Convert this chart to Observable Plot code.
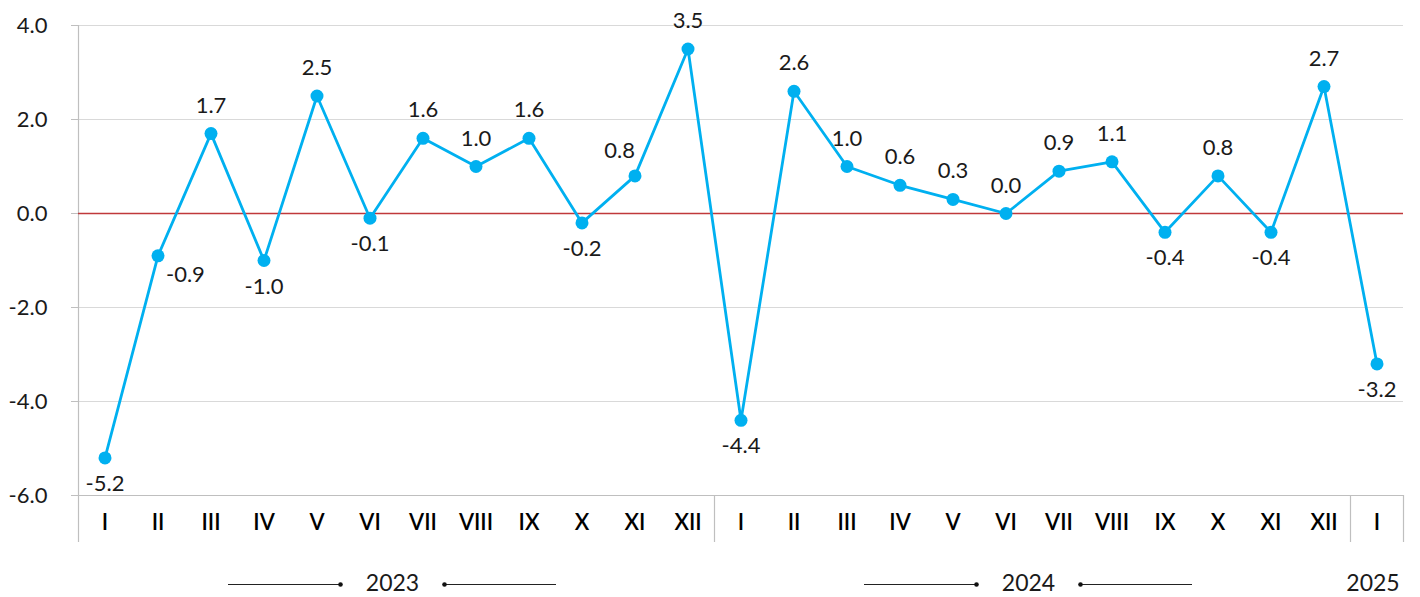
<!DOCTYPE html>
<html>
<head>
<meta charset="utf-8">
<script src="https://cdn.jsdelivr.net/npm/d3@7"></script>
<script src="https://cdn.jsdelivr.net/npm/@observablehq/plot@0.6"></script>
<style>
  html, body { margin: 0; padding: 0; background: #fff; }
  #chart { width: 1420px; height: 597px; overflow: hidden; }
  svg [aria-label="y-axis"] line,
  svg [aria-label="y-axis"] path,
  svg [aria-label="y-axis tick"] path { stroke: #bfbfbf; }
</style>
</head>
<body>
<div id="chart"></div>
<script>
// ---- data ----
const monthLabels = ["I","II","III","IV","V","VI","VII","VIII","IX","X","XI","XII",
                     "I","II","III","IV","V","VI","VII","VIII","IX","X","XI","XII",
                     "I"];
const values = [-5.2, -0.9, 1.7, -1.0, 2.5, -0.1, 1.6, 1.0, 1.6, -0.2, 0.8, 3.5,
                -4.4, 2.6, 1.0, 0.6, 0.3, 0.0, 0.9, 1.1, -0.4, 0.8, -0.4, 2.7,
                -3.2];
const years = ["2023", "2024", "2025"];
const monthsPerYear = [12, 12, 1];
const yTicks = [-6, -4, -2, 0, 2, 4];

// ---- derived tables ----
const rows = values.map((v, i) => ({i, v, m: monthLabels[i], prev: values[i - 1], next: values[i + 1]}));
let acc = 0;
const groups = years.map((y, k) => {
  const start = acc; acc += monthsPerYear[k];
  return {year: y, start, count: monthsPerYear[k], center: start + (monthsPerYear[k] - 1) / 2};
});
const separators = [...groups.map(g => g.start - 0.5), acc - 0.5];

const steep = 1.5;
const aboveLeft = rows.filter(d => d.v >= 0 && d.next !== undefined && d.next - d.v > steep);
const aboveCenter = rows.filter(d => d.v >= 0 && !aboveLeft.includes(d));
const belowRight = rows.filter(d => d.v < 0 && d.prev !== undefined && d.v - d.prev > steep);
const belowCenter = rows.filter(d => d.v < 0 && !belowRight.includes(d));

const multi = groups.filter(g => g.count > 1);
const inner = 52 / 53, outer = 164 / 53;
const decoLines = multi.flatMap(g => [
  {x1: g.center - outer, x2: g.center - inner},
  {x1: g.center + inner, x2: g.center + outer}
]);
const decoDots = multi.flatMap(g => [{x: g.center - inner}, {x: g.center + inner}]);

const fmt = d => d.toFixed(1);
const blue = "#00b0f0";
const ink = "#1a1a1a";
const FS = 22;

const chart = Plot.plot({
  width: 1420,
  height: 597,
  marginLeft: 78,
  marginRight: 17,
  marginTop: 25,
  marginBottom: 102,
  style: {fontFamily: "Lato, 'Open Sans', sans-serif", fontSize: FS + "px", color: ink, background: "#fff", overflow: "visible"},
  x: {type: "linear", domain: [-0.5, acc - 0.5], axis: null},
  y: {domain: [-6, 4], ticks: yTicks, tickFormat: fmt, tickSize: 7, tickPadding: 24, label: null, line: false},
  marks: [
    Plot.ruleY(yTicks.filter(t => t !== 0 && t !== -6), {stroke: "#d9d9d9", strokeWidth: 1}),
    Plot.ruleY([-6], {stroke: "#bfbfbf", strokeWidth: 1.2}),
    Plot.ruleX([separators[0]], {y1: 4, y2: -7, stroke: "#bfbfbf", strokeWidth: 1.2}),
    Plot.ruleX(separators.slice(1), {y1: -6, y2: -7, stroke: "#bfbfbf", strokeWidth: 1.2}),
    Plot.ruleY([0], {stroke: "#c0393b", strokeWidth: 1.4}),
    Plot.line(rows, {x: "i", y: "v", stroke: blue, strokeWidth: 2.8}),
    Plot.dot(rows, {x: "i", y: "v", r: 6.5, fill: blue, stroke: null}),
    Plot.text(aboveCenter, {x: "i", y: "v", text: d => fmt(d.v), dy: -28, fontSize: FS, fill: ink}),
    Plot.text(aboveLeft, {x: "i", y: "v", text: d => fmt(d.v), dy: -25, dx: 0, textAnchor: "end", fontSize: FS, fill: ink}),
    Plot.text(belowCenter, {x: "i", y: "v", text: d => fmt(d.v), dy: 26, fontSize: FS, fill: ink}),
    Plot.text(belowRight, {x: "i", y: "v", text: d => fmt(d.v), dy: 19, dx: 8, textAnchor: "start", fontSize: FS, fill: ink}),
    Plot.text(rows, {x: "i", y: () => -6, text: "m", dy: 27, fontSize: FS, fontWeight: 600, fill: "#000"}),
    Plot.text(groups, {x: "center", y: () => -6, text: "year", dy: 88, dx: -4, fontSize: FS + 1, fill: ink}),
    Plot.ruleY(decoLines, {x1: "x1", x2: "x2", y: () => -6, dy: 89, dx: -4, stroke: "#222", strokeWidth: 1}),
    Plot.dot(decoDots, {x: "x", y: () => -6, dy: 89, dx: -4, r: 2.3, fill: "#111", stroke: null})
  ]
});
document.getElementById("chart").appendChild(chart);
</script>
</body>
</html>
